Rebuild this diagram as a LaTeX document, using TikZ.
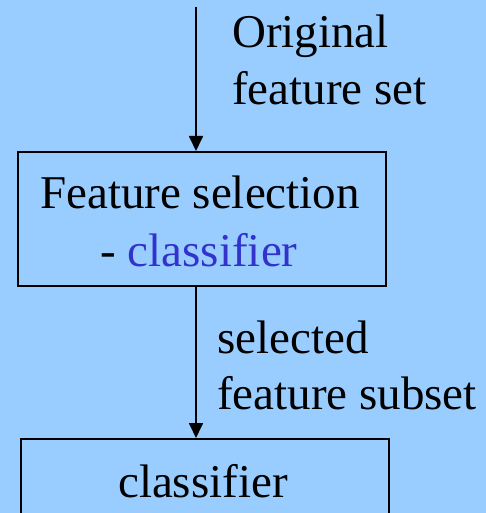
\documentclass[tikz,border=0pt]{standalone}
\usepackage{fontspec}
\setmainfont{Liberation Serif}
\usetikzlibrary{arrows.meta}
\definecolor{bgblue}{HTML}{99CCFF}
\definecolor{txtblue}{HTML}{3333CC}
\begin{document}
\begin{tikzpicture}[x=1pt,y=1pt,
  boxstyle/.style={draw=black,line width=1.8pt,inner sep=0pt},
  arr/.style={line width=1.8pt,-{Triangle[width=14pt,length=15pt]}},
  txt/.style={font=\fontsize{47}{58}\selectfont,inner sep=0pt}]
\fill[bgblue] (0,0) rectangle (486,-513);
\useasboundingbox (0,0) rectangle (486,-513);
\begin{scope}
\clip (0,0) rectangle (486,-513);
\node[boxstyle,minimum width=368pt,minimum height=134pt,anchor=north west] (fsbox) at (17,-151) {};
\node[boxstyle,minimum width=368pt,minimum height=134pt,anchor=north west] (clbox) at (20,-438) {};
\coordinate (top) at (196,-7);
\draw[arr] (top) -- (top |- fsbox.north);
\draw[arr] (fsbox.south -| top) -- (clbox.north -| top);
\node[txt,anchor=base] (fs1) at (200,-208) {Feature selection};
\node[txt,anchor=base] (fs2) at (199,-266) {- \textcolor{txtblue}{classifier}};
\node[txt,anchor=base] (cl) at (203,-497) {classifier};
\node[txt,anchor=base west] (o1) at (232,-48) {Original};
\node[txt,anchor=base west] (o2) at (232,-105) {feature set};
\node[txt,anchor=base west] (s1) at (217,-353) {selected};
\node[txt,anchor=base west] (s2) at (217,-409) {feature subset};
\end{scope}
\end{tikzpicture}
\end{document}
